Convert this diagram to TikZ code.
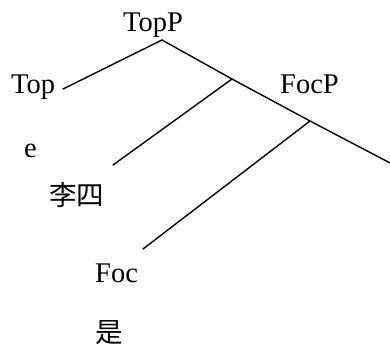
\documentclass[tikz,border=0pt]{standalone}
\usepackage{fontspec}
\setmainfont{Liberation Serif}
\newfontfamily\cjk{Noto Sans CJK SC}
\begin{document}
\begin{tikzpicture}[x=1pt,y=-1pt,
  lbl/.style={anchor=base west,inner sep=0pt,font=\fontsize{28.5}{30}\selectfont},
  cjklbl/.style={anchor=base west,inner sep=0pt,font=\fontsize{27.5}{30}\selectfont\cjk},
  edge/.style={line width=1.4pt,line cap=round}]
\useasboundingbox (0,0) rectangle (390,348);
\node[lbl] (topp) at (123,31) {TopP};
\node[lbl] (top) at (11,93) {Top};
\node[lbl] (focp) at (280,93) {FocP};
\node[lbl] (e) at (24,157) {e};
\node[cjklbl] (lisi) at (49,205) {李四};
\node[lbl] (foc) at (95,282) {Foc};
\node[cjklbl] (shi) at (95,342) {是};
\coordinate (apex) at (162,40);
\coordinate (topend) at (63,89);
\coordinate (b1) at (232,79);
\coordinate (b1end) at (113,165);
\coordinate (b2) at (310,121);
\coordinate (b2end) at (143,249);
\coordinate (rend) at (392,164);
\draw[edge] (apex) -- (topend);
\draw[edge] (apex) -- (b1) -- (b2) -- (rend);
\draw[edge] (b1) -- (b1end);
\draw[edge] (b2) -- (b2end);
\end{tikzpicture}
\end{document}
